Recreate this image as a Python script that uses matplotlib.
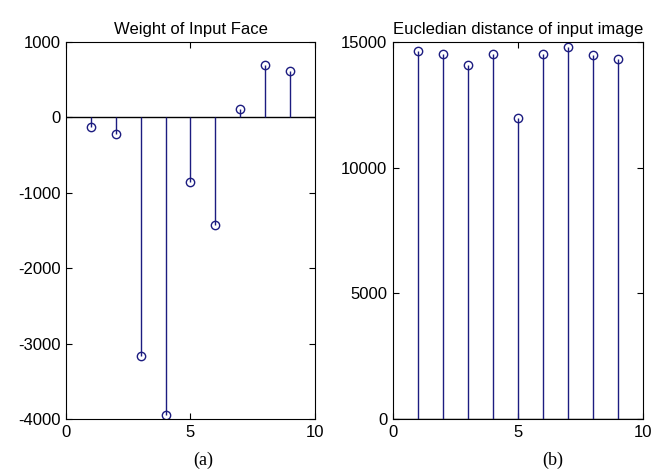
import numpy as np
import matplotlib
matplotlib.use("Agg")
import matplotlib.pyplot as plt

plt.rcParams['font.family'] = ['Liberation Sans', 'DejaVu Sans']
plt.rcParams['axes.unicode_minus'] = False

idx = [1, 2, 3, 4, 5, 6, 7, 8, 9]
weights = [-130, -220, -3160, -3950, -860, -1430, 110, 690, 620]
distances = [14640, 14520, 14070, 14520, 11960, 14520, 14810, 14470, 14310]

col = '#1c1c80'

fig = plt.figure(figsize=(6.65, 4.75), dpi=100)
ax1 = fig.add_axes([0.0992, 0.1179, 0.3744, 0.7937])
ax2 = fig.add_axes([0.591, 0.1179, 0.376, 0.7937])


def stem_plot(ax, x, y):
    ml, sl, bl = ax.stem(x, y)
    plt.setp(sl, color=col, linewidth=1.0)
    plt.setp(ml, color=col, markerfacecolor='none', markersize=6, markeredgewidth=1.0)
    bl.set_visible(False)
    # baseline across the whole axes, like matlab
    ax.axhline(0, color='black', linewidth=1.0, zorder=1)
    ax.tick_params(direction='in', top=True, right=True, labelsize=12, length=4, pad=4)
    ax.set_xlim(0, 10)
    ax.set_xticks([0, 5, 10])


stem_plot(ax1, idx, weights)
ax1.set_ylim(-4000, 1000)
ax1.set_yticks([-4000, -3000, -2000, -1000, 0, 1000])
ax1.set_title('Weight of Input Face', fontsize=12, pad=6)

stem_plot(ax2, idx, distances)
ax2.set_ylim(0, 15000)
ax2.set_yticks([0, 5000, 10000, 15000])
ax2.set_title('Eucledian distance of input image', fontsize=12, pad=6)

fig.text(203 / 665, 1 - 460 / 475, '(a)', family='Liberation Serif', fontsize=13, ha='center', va='center')
fig.text(553 / 665, 1 - 460 / 475, '(b)', family='Liberation Serif', fontsize=13, ha='center', va='center')

fig.savefig('out.png', dpi=100)
